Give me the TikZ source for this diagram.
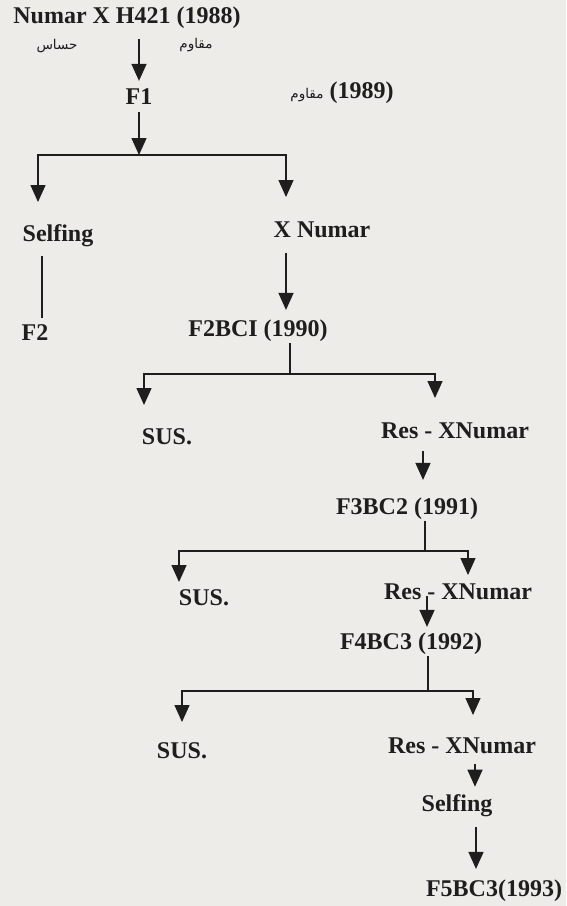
\documentclass[tikz,border=0pt]{standalone}
\usepackage{fontspec}
\setmainfont{Liberation Serif}
\newfontfamily\arabicfont[Script=Arabic]{DejaVu Sans}
\TeXXeTstate=1
\usetikzlibrary{arrows.meta, calc}

\definecolor{paper}{RGB}{237,236,233}
\definecolor{ink}{RGB}{30,30,30}

\begin{document}
\begin{tikzpicture}[
			x=1pt, y=-1pt,
			gen/.style={font=\fontsize{24}{28}\selectfont\bfseries, text=ink, inner sep=1pt},
			arlabel/.style={font=\arabicfont\fontsize{13.5}{15}\selectfont, text=ink, inner sep=1pt},
			link/.style={line width=1.4pt, draw=ink},
			tip/.style={link, -{Triangle[width=15pt, length=17pt]}}
			]
			
			% --- paper ---
			\fill[paper] (0,0) rectangle (566,906);
			\useasboundingbox (0,0) rectangle (566,906);
			
			% --- Cross and F1 ---
			\node[gen] (cross) at (127,18) {Numar X H421 (1988)};
			\node[arlabel] (sens) at (57,46) {\beginR حساس\endR};
			\node[arlabel] (resist) at (196,45) {\beginR مقاوم\endR};
			\node[gen] (F1) at (139,97) {F1};
			\node[gen] (F1res) at (342,93) {{\arabicfont\mdseries\fontsize{13.5}{15}\selectfont\beginR مقاوم\endR} (1989)};
			
			\draw[tip, shorten <=9pt, shorten >=7pt] (cross.south -| F1.north) -- (F1.north);
			
			% --- First split ---
			\coordinate (b1) at (139,155);
			\coordinate (t1L) at (38,202);
			\coordinate (t1R) at (286,197);
			\draw[tip, shorten <=6pt] (F1.south) -- (b1);
			\draw[tip] (b1) -| (t1L);
			\draw[tip] (b1) -| (t1R);
			
			\node[gen] (self1) at (58,236) {Selfing};
			\node[gen] (xnum) at (322,230) {X Numar};
			\node[gen] (F2) at (35,333) {F2};
			\node[gen] (F2BC1) at (258,331) {F2BCI (1990)};
			
			\draw[link, shorten <=8pt, shorten >=6pt] ([xshift=-16pt]self1.south) -- ([xshift=-16pt]self1.south |- F2.north);
			\draw[tip, shorten <=14pt, shorten >=9pt] (xnum.south -| t1R) -- (F2BC1.north -| t1R);
			
			% --- Second split ---
			\coordinate (b2) at (290,374);
			\coordinate (t2L) at (144,405);
			\coordinate (t2R) at (435,398);
			\draw[link] (F2BC1.south -| b2) -- (b2);
			\draw[tip] (b2) -| (t2L);
			\draw[tip] (b2) -| (t2R);
			
			\node[gen] (sus1) at (167,437) {SUS.};
			\node[gen] (res1) at (455,431) {Res - XNumar};
			\node[gen] (F3BC2) at (407,509) {F3BC2 (1991)};
			
			\draw[tip, shorten <=11pt, shorten >=17pt] ([xshift=-32pt]res1.south) -- ([xshift=-32pt]res1.south |- F3BC2.north);
			
			% --- Third split ---
			\coordinate (b3) at (425,551);
			\coordinate (t3L) at (179,582);
			\coordinate (t3R) at (468,575);
			\draw[link] (F3BC2.south -| b3) -- (b3);
			\draw[tip] (b3) -| (t3L);
			\draw[tip] (b3) -| (t3R);
			
			\node[gen] (sus2) at (204,598) {SUS.};
			\node[gen] (res2) at (458,592) {Res - XNumar};
			\node[gen] (F4BC3) at (411,644) {F4BC3 (1992)};
			
			\draw[tip, shorten <=-5pt, shorten >=5pt] ([xshift=-31pt]res2.south) -- ([xshift=-31pt]res2.south |- F4BC3.north);
			
			% --- Fourth split ---
			\coordinate (b4) at (428,691);
			\coordinate (t4L) at (182,722);
			\coordinate (t4R) at (473,715);
			\draw[link] (F4BC3.south -| b4) -- (b4);
			\draw[tip] (b4) -| (t4L);
			\draw[tip] (b4) -| (t4R);
			
			\node[gen] (sus3) at (182,751) {SUS.};
			\node[gen] (res3) at (462,746) {Res - XNumar};
			\node[gen] (self2) at (457,806) {Selfing};
			\node[gen] (F5BC3) at (494,891) {F5BC3(1993)};
			
			\draw[tip, shorten <=9pt, shorten >=7pt] ([xshift=13pt]res3.south) -- ([xshift=13pt]res3.south |- self2.north);
			\draw[tip, shorten <=9pt, shorten >=10pt] ([xshift=19pt]self2.south) -- ([xshift=19pt]self2.south |- F5BC3.north);
			
		\end{tikzpicture}
\end{document}
